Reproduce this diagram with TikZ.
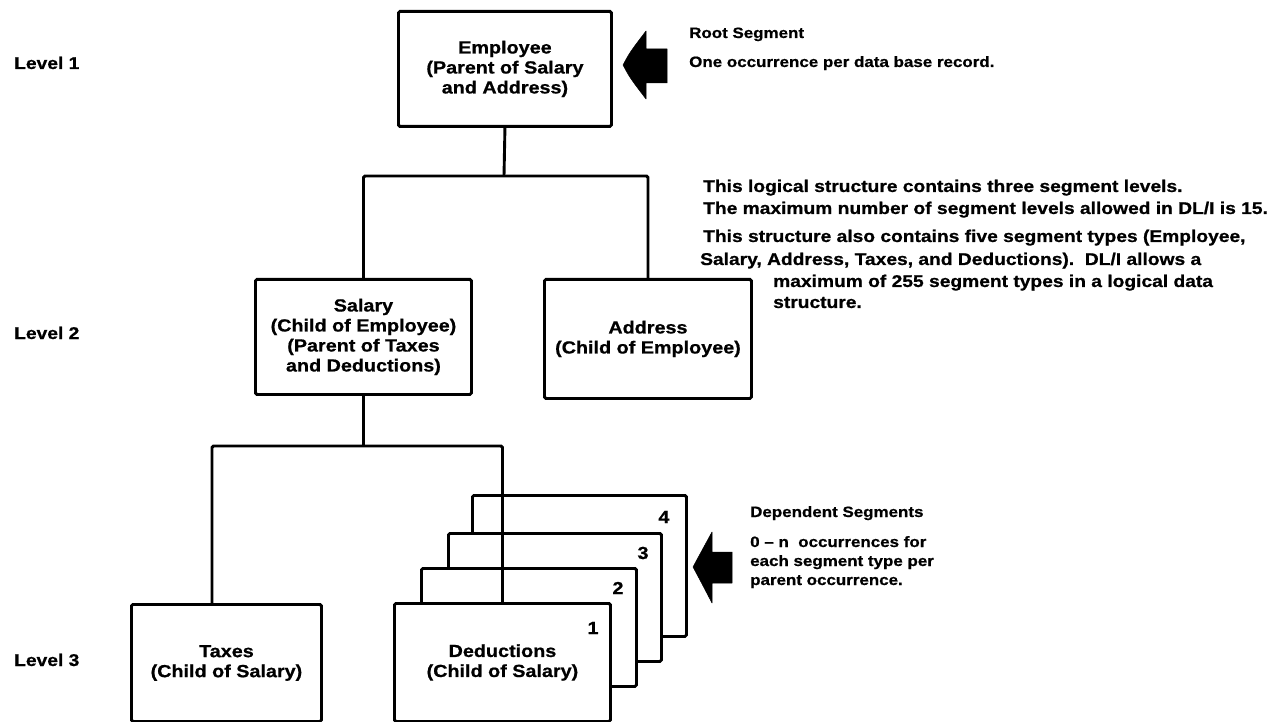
\documentclass[tikz,border=0pt]{standalone}
\usepackage{fontspec}
\newfontfamily\lbl{Liberation Sans Bold}[FakeStretch=1.13, FakeBold=0.8]
\begin{document}
\begin{tikzpicture}[x=1pt,y=-1pt,
  segbox/.style={draw, line width=2.9pt, rounded corners=1.5pt, fill=white,
    anchor=north west, inner sep=0pt, align=center,
    font=\lbl\fontsize{17.5}{20}\selectfont},
  conn/.style={line width=2.9pt, rounded corners=1.5pt},
  note/.style={anchor=base west, inner sep=0pt, font=\lbl\fontsize{15}{20}\selectfont},
  bignote/.style={anchor=base west, inner sep=0pt, font=\lbl\fontsize{17}{22}\selectfont},
  num/.style={inner sep=0pt, font=\lbl\fontsize{17.5}{20}\selectfont},
  blockarrow/.style={fill=black, draw=black, line width=0.5pt, line join=round}]
\useasboundingbox (0,0) rectangle (1278,722);

% level captions
\node[bignote] (lv1) at (14,69)  {Level 1};
\node[bignote] (lv2) at (14,339) {Level 2};
\node[bignote] (lv3) at (14,666) {Level 3};

% segment boxes
\node[segbox, minimum width=213pt, minimum height=115pt] (emp) at (397,10)
  {Employee\\(Parent of Salary\\and Address)};
\node[segbox, minimum width=216pt, minimum height=115pt] (sal) at (254,278)
  {Salary\\(Child of Employee)\\(Parent of Taxes\\and Deductions)};
\node[segbox, minimum width=207pt, minimum height=119pt] (addr) at (543,278)
  {Address\\(Child of Employee)};
\node[segbox, minimum width=190pt, minimum height=117pt] (tax) at (130,603)
  {Taxes\\(Child of Salary)};

% stacked occurrences of Deductions, back to front
\node[segbox, minimum width=214pt, minimum height=141pt] (d4) at (471,494) {};
\node[segbox, minimum width=213pt, minimum height=128pt] (d3) at (447,532) {};
\node[segbox, minimum width=215pt, minimum height=118pt] (d2) at (420,567) {};
\node[segbox, minimum width=216pt, minimum height=118pt] (ded) at (393,602)
  {Deductions\\(Child of Salary)};

\node[num] (n4) at (664,517) {4};
\node[num] (n3) at (643,553) {3};
\node[num] (n2) at (618,588) {2};
\node[num] (n1) at (593,628) {1};

% hierarchy connectors
\coordinate (j1) at (504,176);
\coordinate (j2) at (212,446);
\draw[conn] (emp.south) -- (j1);
\draw[conn] (sal.north) |- (j1) -| (addr.north);
\draw[conn] (sal.south) -- (sal.south |- j2);
\draw[conn] (tax.north -| j2) |- (ded.north |- j2) -- (ded.north);

% pointer arrows
\fill[blockarrow] (623,65) .. controls (630,52) .. (646,31) -- (646,49) -- (667,49)
  -- (667,83) -- (646,83) -- (646,99) .. controls (630,78) .. cycle;
\fill[blockarrow] (693,567) .. controls (700,554) .. (712,532) -- (712,552) -- (732,552)
  -- (732,583) -- (712,583) -- (712,603) .. controls (700,580) .. cycle;

% annotations
\node[note] (rs1) at (689,38) {Root Segment};
\node[note] (rs2) at (689,67) {One occurrence per data base record.};

\node[bignote] (t1) at (703,192) {This logical structure contains three segment levels.};
\node[bignote] (t2) at (703,214) {The maximum number of segment levels allowed in DL/I is 15.};
\node[bignote] (t3) at (703,242) {This structure also contains five segment types (Employee,};
\node[bignote] (t4) at (700,265) {Salary, Address, Taxes, and Deductions).\ \ DL/I allows a};
\node[bignote] (t5) at (773,287) {maximum of 255 segment types in a logical data};
\node[bignote] (t6) at (773,308) {structure.};

\node[note] (ds1) at (750,517) {Dependent Segments};
\node[note] (ds2) at (750,547) {0 – n\ \ occurrences for};
\node[note] (ds3) at (750,566) {each segment type per};
\node[note] (ds4) at (750,585) {parent occurrence.};
\end{tikzpicture}
\end{document}
